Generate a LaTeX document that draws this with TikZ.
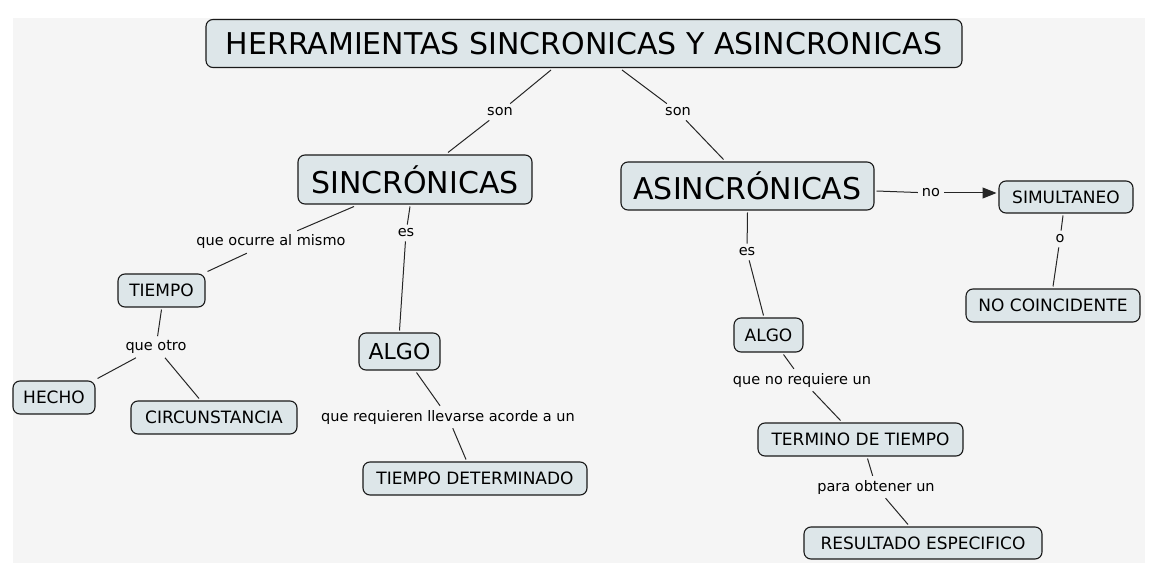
\documentclass[tikz,border=0pt]{standalone}
\usepackage{fontspec}
\setmainfont{DejaVu Sans}
\usepackage{tikz}
\usetikzlibrary{positioning, arrows.meta}

\definecolor{boxfill}{RGB}{221,230,233}
\definecolor{bgfill}{RGB}{245,245,245}

\begin{document}
\begin{tikzpicture}[
  x=1pt, y=-1pt,
  concepto/.style={draw=black!90, fill=boxfill, rounded corners=7pt, line width=1.1pt,
                   font=\fontsize{17}{20}\selectfont, inner sep=0pt, outer sep=2.5pt},
  grande/.style={concepto, font=\fontsize{30}{34}\selectfont},
  enlace/.style={font=\fontsize{14.5}{17}\selectfont, inner sep=4pt},
  linea/.style={draw=black!85, line width=1pt},
]
  \useasboundingbox (0,0) rectangle (1162,580);
  \fill[bgfill] (13,18) rectangle (1145,563);

  % Main concepts
  \node[grande, minimum width=756, minimum height=48] (title) at (584,43.5) {HERRAMIENTAS SINCRONICAS Y ASINCRONICAS};
  \node[grande, minimum width=234, minimum height=49] (sinc) at (415,179.5) {SINCRÓNICAS};
  \node[grande, minimum width=253, minimum height=48] (asinc) at (747.5,186) {ASINCRÓNICAS};

  % Left branch
  \node[concepto, minimum width=87,  minimum height=33] (tiempo) at (161.5,290.5) {TIEMPO};
  \node[concepto, minimum width=82,  minimum height=33] (hecho) at (54,397.5) {HECHO};
  \node[concepto, minimum width=166, minimum height=33] (circ) at (214,417.5) {CIRCUNSTANCIA};
  \node[concepto, minimum width=81,  minimum height=37, font=\fontsize{22}{26}\selectfont] (algoa) at (399.5,351.5) {ALGO};
  \node[concepto, minimum width=224, minimum height=33] (tdet) at (475,478.5) {TIEMPO DETERMINADO};

  % Right branch
  \node[concepto, minimum width=134, minimum height=32] (simul) at (1066,197) {SIMULTANEO};
  \node[concepto, minimum width=174, minimum height=33] (nocoin) at (1053,305.5) {NO COINCIDENTE};
  \node[concepto, minimum width=69,  minimum height=34] (algob) at (768.5,335) {ALGO};
  \node[concepto, minimum width=205, minimum height=33] (termino) at (860.5,439.5) {TERMINO DE TIEMPO};
  \node[concepto, minimum width=238, minimum height=32] (result) at (923,543) {RESULTADO ESPECIFICO};

  % Linking phrases
  \node[enlace] (son1) at (500,112) {son};
  \node[enlace] (son2) at (678,112) {son};
  \node[enlace] (no) at (931,193) {no};
  \node[enlace] (o) at (1060,239) {o};
  \node[enlace] (ocurre) at (271,242) {que ocurre al mismo};
  \node[enlace] (esa) at (406,233) {es};
  \node[enlace] (queotro) at (156,347) {que otro};
  \node[enlace] (req) at (448,417) {que requieren llevarse acorde a un};
  \node[enlace] (esb) at (747,252) {es};
  \node[enlace] (noreq) at (802,380) {que no requiere un};
  \node[enlace] (para) at (876,487) {para obtener un};

  % Connectors
  \draw[linea] ([xshift=-33pt]title.south) -- (son1);
  \draw[linea] (son1) -- ([xshift=33pt]sinc.north);
  \draw[linea] ([xshift=38pt]title.south) -- (son2);
  \draw[linea] (son2) -- ([xshift=-24pt]asinc.north);
  \draw[linea] ([yshift=-5pt]asinc.east) -- (no);
  \draw[linea, -{Triangle[length=14pt, width=11pt]}] (no) -- ([yshift=4pt]simul.west);
  \draw[linea] ([xshift=-3pt]simul.south) -- (o);
  \draw[linea] (o) -- (nocoin.north);
  \draw[linea] ([xshift=-61pt]sinc.south) -- (ocurre);
  \draw[linea] (ocurre) -- (tiempo.north east);
  \draw[linea] ([xshift=-5pt]sinc.south) -- (esa);
  \draw[linea] (esa) -- (algoa.north);
  \draw[linea] (tiempo.south) -- (queotro);
  \draw[linea] (queotro) -- (hecho.north east);
  \draw[linea] (queotro) -- ([xshift=-15pt]circ.north);
  \draw[linea] ([xshift=17pt]algoa.south) -- (req);
  \draw[linea] (req) -- ([xshift=-9pt]tdet.north);
  \draw[linea] (asinc.south) -- (esb);
  \draw[linea] (esb) -- ([xshift=-5pt]algob.north);
  \draw[linea] ([xshift=15pt]algob.south) -- (noreq);
  \draw[linea] (noreq) -- ([xshift=-20pt]termino.north);
  \draw[linea] ([xshift=7pt]termino.south) -- (para);
  \draw[linea] (para) -- ([xshift=-15pt]result.north);
\end{tikzpicture}
\end{document}
